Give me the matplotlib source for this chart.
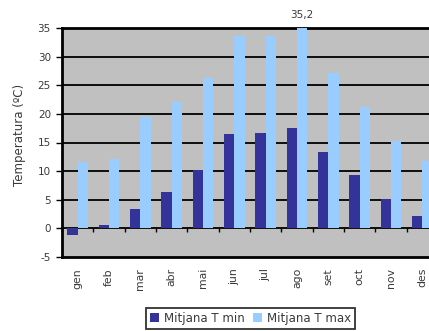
import matplotlib
matplotlib.use("Agg")
import matplotlib.pyplot as plt
import numpy as np

plt.rcParams['font.family'] = ['DejaVu Sans']

months = ["gen", "feb", "mar", "abr", "mai", "jun", "jul", "ago", "set", "oct", "nov", "des"]
t_min = [-1.1, 0.6, 3.4, 6.3, 10.2, 16.4, 16.7, 17.6, 13.4, 9.4, 5.1, 2.1]
t_max = [11.6, 12.1, 19.4, 22.0, 26.2, 33.6, 33.6, 35.2, 27.1, 21.2, 15.3, 11.8]
label_min = "Mitjana T min"
label_max = "Mitjana T max"
ylabel = "Temperatura (ºC)"
yticks = [-5, 0, 5, 10, 15, 20, 25, 30, 35]

txt = "#3a3a3a"
fig = plt.figure(figsize=(4.29, 3.31), dpi=100)
L, R, T, B = 62, 438, 28, 257
ax = fig.add_axes([L/429, 1-B/331, (R-L)/429, (B-T)/331])
ax.set_facecolor("#C0C0C0")

x = np.arange(len(months))
w = 0.33
b1 = ax.bar(x - w/2, t_min, w, color="#333399", label=label_min, zorder=3)
b2 = ax.bar(x + w/2, t_max, w, color="#99CCFF", label=label_max, zorder=3)

imax = int(np.argmax(t_max))
ax.annotate(f"{t_max[imax]:.1f}".replace(".", ","), (x[imax] + w/2, t_max[imax]),
            xytext=(0, 5), textcoords="offset points", ha="center", va="bottom",
            fontsize=7.5, color=txt, annotation_clip=False)

ax.set_xlim(-0.5, len(months) - 0.5)
ax.set_ylim(-5, 35)
ax.set_yticks(yticks)
ax.set_yticklabels([str(v) for v in yticks], fontsize=7.5, color=txt)
ax.tick_params(axis="y", direction="out", length=4, width=1, pad=4)
for v in yticks[2:-1]:
    ax.axhline(v, color="black", lw=1.3, zorder=1)

ax.set_xticks(x)
ax.set_xticklabels(months, rotation=90, fontsize=7.8, color=txt)
ax.tick_params(axis="x", length=0, pad=8)

for s in ["left", "top", "bottom"]:
    ax.spines[s].set_linewidth(2)
    ax.spines[s].set_color("black")
ax.spines["right"].set_visible(False)

sec = ax.secondary_xaxis(5/40)
sec.set_xticks(np.arange(len(months) + 1) - 0.5)
sec.set_xticklabels([])
sec.tick_params(axis="x", direction="out", length=3, width=1)
sec.spines["bottom"].set_linewidth(1.3)
sec.spines["bottom"].set_zorder(4)

ax.set_ylabel(ylabel, fontsize=8.5, color=txt)
ax.yaxis.set_label_coords((26 - L) / (R - L), (B - 135) / (B - T))

leg = fig.legend(handles=[b1, b2], loc="center", bbox_to_anchor=(250.5/429, 1-318.5/331),
                 ncol=2, fontsize=8.5, frameon=True, fancybox=False, edgecolor="black",
                 handlelength=0.8, handleheight=0.8, handletextpad=0.4, columnspacing=0.7,
                 borderpad=0.3)
leg.get_frame().set_linewidth(1.3)
for t in leg.get_texts():
    t.set_color(txt)

fig.savefig("out.png", dpi=100)
